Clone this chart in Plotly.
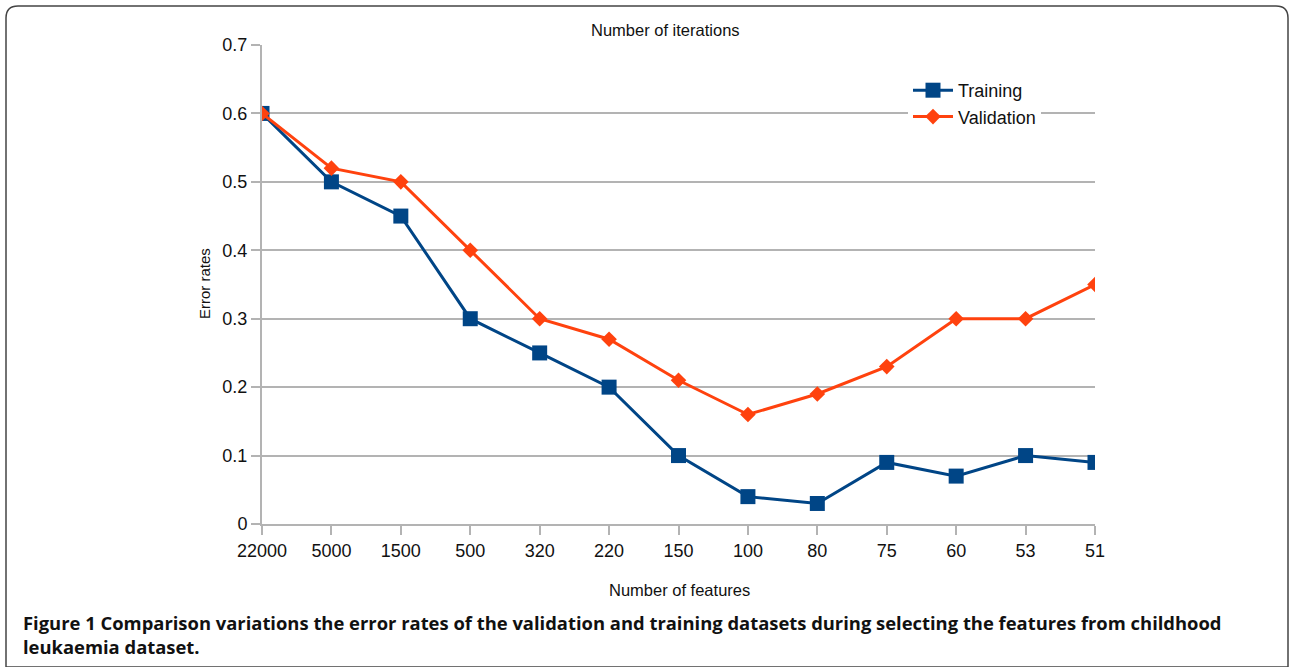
import plotly.graph_objects as go

features = ["22000", "5000", "1500", "500", "320", "220", "150", "100", "80", "75", "60", "53", "51"]
training = [0.6, 0.5, 0.45, 0.3, 0.25, 0.2, 0.1, 0.04, 0.03, 0.09, 0.07, 0.1, 0.09]
validation = [0.6, 0.52, 0.5, 0.4, 0.3, 0.27, 0.21, 0.16, 0.19, 0.23, 0.3, 0.3, 0.35]
y_ticks = [0, 0.1, 0.2, 0.3, 0.4, 0.5, 0.6, 0.7]
y_tick_labels = ["0", "0.1", "0.2", "0.3", "0.4", "0.5", "0.6", "0.7"]

W, H = 1290, 667
L, R, T, B = 262, 1095, 45, 524
pw, ph = R - L, B - T

def px(x):
    return (x - L) / pw

def py(y):
    return 1 - (y - T) / ph

xs = list(range(len(features)))

fig = go.Figure()
fig.add_trace(go.Scatter(
    x=xs, y=training, name="Training", mode="lines+markers",
    line=dict(color="#004586", width=3),
    marker=dict(symbol="square", size=15, color="#004586"),
))
fig.add_trace(go.Scatter(
    x=xs, y=validation, name="Validation", mode="lines+markers",
    line=dict(color="#ff420e", width=3),
    marker=dict(symbol="diamond", size=12, color="#ff420e"),
))

chart_font = "Liberation Sans, Arial, sans-serif"

fig.update_layout(
    width=W, height=H,
    margin=dict(l=L, r=W - R, t=T, b=H - B),
    paper_bgcolor="white", plot_bgcolor="white",
    showlegend=True,
    legend=dict(x=px(908), y=py(72), xanchor="left", yanchor="top",
                bgcolor="white", font=dict(family=chart_font, size=18, color="#111"),
                itemwidth=40, tracegroupgap=0),
    xaxis=dict(range=[0, len(features) - 1], tickmode="array", tickvals=xs, ticktext=features,
               showgrid=False, showline=True, linecolor="#b3b3b3", linewidth=2,
               ticks="outside", ticklen=9, tickcolor="#b3b3b3", tickwidth=2,
               tickfont=dict(family=chart_font, size=18, color="#111"), zeroline=False),
    yaxis=dict(range=[0, 0.7], tickmode="array", tickvals=y_ticks, ticktext=y_tick_labels,
               showgrid=True, gridcolor="#b3b3b3", gridwidth=1.5,
               showline=True, linecolor="#b3b3b3", linewidth=2,
               ticks="outside", ticklen=9, tickcolor="#b3b3b3", tickwidth=2,
               tickfont=dict(family=chart_font, size=18, color="#111"), zeroline=False),
)

# outer frame with rounded top corners
x0, y0, x1, y1 = px(6), py(6), px(1288), py(667)
rx, ry = 12 / pw, 12 / ph
path = (f"M {x0 + rx},{y0} L {x1 - rx},{y0} Q {x1},{y0} {x1},{y0 - ry} L {x1},{y1} "
        f"L {x0},{y1} L {x0},{y0 - ry} Q {x0},{y0} {x0 + rx},{y0} Z")
fig.add_shape(type="path", xref="paper", yref="paper", path=path,
              line=dict(color="#444", width=1.5), fillcolor="rgba(0,0,0,0)", layer="below")

fig.add_annotation(text="Number of iterations", xref="paper", yref="paper",
                   x=px(665), y=py(30), showarrow=False, xanchor="center", yanchor="middle",
                   font=dict(family=chart_font, size=16.5, color="#111"))
fig.add_annotation(text="Number of features", xref="paper", yref="paper",
                   x=px(679), y=py(590), showarrow=False, xanchor="center", yanchor="middle",
                   font=dict(family=chart_font, size=16.5, color="#111"))
fig.add_annotation(text="Error rates", xref="paper", yref="paper",
                   x=px(204), y=py(284), showarrow=False, textangle=-90,
                   xanchor="center", yanchor="middle",
                   font=dict(family=chart_font, size=15, color="#111"))
fig.add_annotation(
    text="<b>Figure 1</b> <b>Comparison variations the error rates of the validation and training datasets during selecting the features from childhood</b><br><b>leukaemia dataset.</b>",
    xref="paper", yref="paper", x=px(21), y=py(608), showarrow=False,
    xanchor="left", yanchor="top", align="left",
    font=dict(family="Open Sans, sans-serif", size=18.4, color="#111"))

fig.write_html("out.html", config={"displayModeBar": False},
               post_script="document.body.style.margin='0px';")
